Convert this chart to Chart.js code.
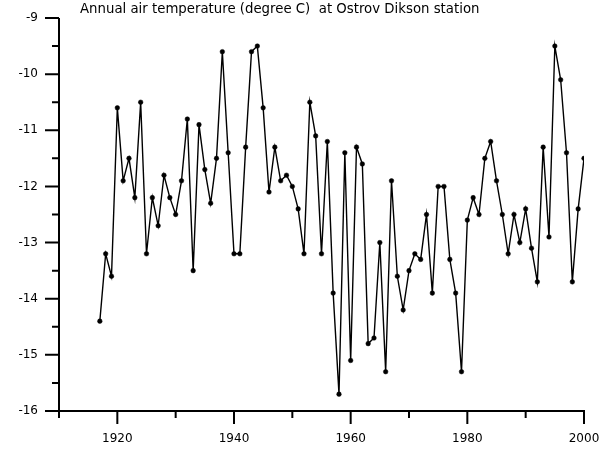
<!DOCTYPE html>
<html>
<head>
<meta charset="utf-8">
<script src="https://cdn.jsdelivr.net/npm/chart.js@4"></script>
<style>
  html, body { margin: 0; padding: 0; background: #fff; }
  canvas { display: block; }
</style>
</head>
<body>
<canvas id="chart" width="600" height="472"></canvas>
<script>
'use strict';

/* datos */
const TITLE = 'Annual air temperature (degree C)  at Ostrov Dikson station';

const YEARS = [
  1917, 1918, 1919, 1920, 1921, 1922, 1923, 1924, 1925, 1926, 1927, 1928, 1929, 1930,
  1931, 1932, 1933, 1934, 1935, 1936, 1937, 1938, 1939, 1940, 1941, 1942, 1943, 1944,
  1945, 1946, 1947, 1948, 1949, 1950, 1951, 1952, 1953, 1954, 1955, 1956, 1957, 1958,
  1959, 1960, 1961, 1962, 1963, 1964, 1965, 1966, 1967, 1968, 1969, 1970, 1971, 1972,
  1973, 1974, 1975, 1976, 1977, 1978, 1979, 1980, 1981, 1982, 1983, 1984, 1985, 1986,
  1987, 1988, 1989, 1990, 1991, 1992, 1993, 1994, 1995, 1996, 1997, 1998, 1999, 2000
];

const TEMPS = [
  -14.4, -13.2, -13.6, -10.6, -11.9, -11.5, -12.2, -10.5, -13.2, -12.2, -12.7, -11.8, -12.2, -12.5,
  -11.9, -10.8, -13.5, -10.9, -11.7, -12.3, -11.5, -9.6, -11.4, -13.2, -13.2, -11.3, -9.6, -9.5,
  -10.6, -12.1, -11.3, -11.9, -11.8, -12.0, -12.4, -13.2, -10.5, -11.1, -13.2, -11.2, -13.9, -15.7,
  -11.4, -15.1, -11.3, -11.6, -14.8, -14.7, -13.0, -15.3, -11.9, -13.6, -14.2, -13.5, -13.2, -13.3,
  -12.5, -13.9, -12.0, -12.0, -13.3, -13.9, -15.3, -12.6, -12.2, -12.5, -11.5, -11.2, -11.9, -12.5,
  -13.2, -12.5, -13.0, -12.4, -13.1, -13.7, -11.3, -12.9, -9.5, -10.1, -11.4, -13.7, -12.4, -11.5
];

const X_MAJOR = [1920, 1940, 1960, 1980, 2000];
const X_MINOR = [1910, 1930, 1950, 1970, 1990];
const Y_MAJOR = [-16, -15, -14, -13, -12, -11, -10, -9];
const Y_MINOR = [-15.5, -14.5, -13.5, -12.5, -11.5, -10.5, -9.5];

const FONT = '"DejaVu Sans", Verdana, sans-serif';

/* ejes y titulo dibujados a mano (ticks largos y cortos) */
const axesPlugin = {
  id: 'axes',
  beforeDatasetsDraw(chart) {
    const { ctx, chartArea: a, scales: { x, y } } = chart;
    ctx.save();
    ctx.strokeStyle = '#000';
    ctx.lineWidth = 2;
    ctx.lineCap = 'butt';
    ctx.beginPath();
    ctx.moveTo(a.left, a.top);
    ctx.lineTo(a.left, a.bottom);
    ctx.lineTo(a.right + 1, a.bottom);

    X_MAJOR.forEach(v => {
      const px = x.getPixelForValue(v);
      ctx.moveTo(px, a.bottom);
      ctx.lineTo(px, a.bottom + 13);
    });
    X_MINOR.forEach(v => {
      const px = x.getPixelForValue(v);
      ctx.moveTo(px, a.bottom);
      ctx.lineTo(px, a.bottom + 7);
    });
    Y_MAJOR.forEach(v => {
      const py = y.getPixelForValue(v);
      ctx.moveTo(a.left, py);
      ctx.lineTo(a.left - 14, py);
    });
    Y_MINOR.forEach(v => {
      const py = y.getPixelForValue(v);
      ctx.moveTo(a.left, py);
      ctx.lineTo(a.left - 7, py);
    });
    ctx.stroke();

    // titulo: ajustar el tamaño para que ocupe ~400px como en la figura
    ctx.fillStyle = '#000';
    ctx.font = '12px ' + FONT;
    const w = ctx.measureText(TITLE).width;
    const size = Math.min(14, 12 * 400 / w);
    ctx.font = size.toFixed(1) + 'px ' + FONT;
    ctx.textAlign = 'left';
    ctx.textBaseline = 'middle';
    ctx.fillText(TITLE, 80, 10);
    ctx.restore();
  }
};

new Chart(document.getElementById('chart'), {
  type: 'line',
  data: {
    datasets: [{
      data: YEARS.map((yr, i) => ({ x: yr, y: TEMPS[i] })),
      borderColor: '#000',
      borderWidth: 1.4,
      backgroundColor: '#000',
      pointBackgroundColor: '#000',
      pointBorderColor: '#000',
      pointRadius: 2.3,
      pointBorderWidth: 0.5,
      tension: 0,
      fill: false
    }]
  },
  options: {
    responsive: false,
    animation: false,
    devicePixelRatio: 1,
    layout: { padding: { top: 18, right: 16, left: 0, bottom: 0 } },
    plugins: {
      legend: { display: false },
      tooltip: { enabled: false },
      title: { display: false }
    },
    scales: {
      x: {
        type: 'linear',
        min: 1910,
        max: 2000,
        grid: { display: false, drawTicks: false },
        border: { display: false },
        afterBuildTicks: s => { s.ticks = X_MAJOR.map(v => ({ value: v })); },
        afterFit: s => { s.height = 61; s.paddingLeft = 0; s.paddingRight = 0; },
        ticks: {
          color: '#000',
          font: { family: FONT, size: 12 },
          padding: 21,
          maxRotation: 0,
          autoSkip: false,
          callback: v => String(v)
        }
      },
      y: {
        min: -16,
        max: -9,
        grid: { display: false, drawTicks: false },
        border: { display: false },
        afterBuildTicks: s => { s.ticks = Y_MAJOR.map(v => ({ value: v })); },
        afterFit: s => { s.width = 59; s.paddingTop = 0; s.paddingBottom = 0; },
        ticks: {
          color: '#000',
          font: { family: FONT, size: 12 },
          padding: 21,
          autoSkip: false,
          callback: v => String(v)
        }
      }
    }
  },
  plugins: [axesPlugin]
});
</script>
</body>
</html>
